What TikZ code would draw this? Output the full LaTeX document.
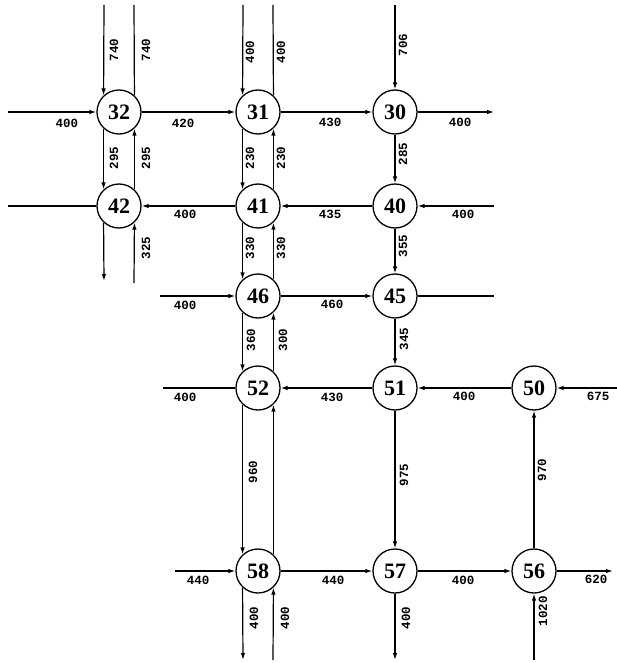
\documentclass[tikz,border=0pt]{standalone}
\usepackage{fontspec}
\newfontfamily\nodefont{Liberation Serif}
\newfontfamily\labfont{Liberation Mono}
\usetikzlibrary{arrows.meta}
\begin{document}
\begin{tikzpicture}[x=1pt,y=-1pt,
  junction/.style={circle,draw,line width=1.3pt,fill=white,minimum size=44pt,inner sep=0pt,
    font=\nodefont\bfseries\fontsize{22}{22}\selectfont},
  road/.style={line width=1.2pt},
  arr/.style={road,-{Latex[length=7pt,width=4.5pt]}},
  hl/.style={font=\labfont\bfseries\fontsize{12.5}{12.5}\selectfont,inner sep=0pt},
  vl/.style={hl,rotate=90}]
\useasboundingbox[fill=white] (0,0) rectangle (617,663);
% junctions
\node[junction] (n32) at (119,112) {32};
\node[junction] (n31) at (258,112) {31};
\node[junction] (n30) at (395,112) {30};
\node[junction] (n42) at (119,206) {42};
\node[junction] (n41) at (258,206) {41};
\node[junction] (n40) at (395,206) {40};
\node[junction] (n46) at (258,296) {46};
\node[junction] (n45) at (395,296) {45};
\node[junction] (n52) at (258,388) {52};
\node[junction] (n51) at (395,388) {51};
\node[junction] (n50) at (534,388) {50};
\node[junction] (n58) at (258,571) {58};
\node[junction] (n57) at (395,571) {57};
\node[junction] (n56) at (534,571) {56};
% free ends
\coordinate (t32l) at (104,5);
\coordinate (t32r) at (134,5);
\coordinate (w32) at (8,112);
\coordinate (b42l) at (104,281);
\coordinate (b42r) at (134,283);
\coordinate (w42) at (8,206);
\coordinate (t31l) at (243,5);
\coordinate (t31r) at (273,5);
\coordinate (t30) at (395,5);
\coordinate (e30) at (494,112);
\coordinate (e40) at (494,206);
\coordinate (w46) at (160,296);
\coordinate (e45) at (494,296);
\coordinate (w52) at (163,388);
\coordinate (e50) at (617,388);
\coordinate (w58) at (175,571);
\coordinate (e56) at (613,571);
\coordinate (b56) at (534,660);
\coordinate (b57) at (395,660);
\coordinate (b58l) at (243,660);
\coordinate (b58r) at (273,660);
% connectors
\draw[arr] (t32l) -- (n32.133);
\draw[road] (n32.47) -- (t32r);
\draw[arr] (w32) -- (n32);
\draw[arr] (n32) -- (n31);
\draw[arr] (n32.227) -- (n42.133);
\draw[arr] (n42.47) -- (n32.313);
\draw[arr] (n42.227) -- (b42l);
\draw[arr] (b42r) -- (n42.313);
\draw[road] (n42) -- (w42);
\draw[arr] (n41) -- (n42);
\draw[arr] (t31l) -- (n31.133);
\draw[road] (n31.47) -- (t31r);
\draw[arr] (n31) -- (n30);
\draw[arr] (n31.227) -- (n41.133);
\draw[arr] (n41.47) -- (n31.313);
\draw[arr] (n40) -- (n41);
\draw[arr] (t30) -- (n30);
\draw[arr] (n30) -- (e30);
\draw[arr] (n30) -- (n40);
\draw[arr] (e40) -- (n40);
\draw[arr] (n40) -- (n45);
\draw[arr] (n41.227) -- (n46.133);
\draw[arr] (n46.47) -- (n41.313);
\draw[arr] (w46) -- (n46);
\draw[arr] (n46) -- (n45);
\draw[road] (n45) -- (e45);
\draw[arr] (n45) -- (n51);
\draw[arr] (n46.227) -- (n52.133);
\draw[arr] (n52.47) -- (n46.313);
\draw[road] (n52) -- (w52);
\draw[arr] (n51) -- (n52);
\draw[arr] (n50) -- (n51);
\draw[arr] (e50) -- (n50);
\draw[arr] (n51) -- (n57);
\draw[arr] (n56) -- (n50);
\draw[arr] (n52.227) -- (n58.133);
\draw[arr] (n58.47) -- (n52.313);
\draw[arr] (w58) -- (n58);
\draw[arr] (n58) -- (n57);
\draw[arr] (n57) -- (n56);
\draw[arr] (n56) -- (e56);
\draw[arr] (b56) -- (n56);
\draw[arr] (n57) -- (b57);
\draw[arr] (n58.227) -- (b58l);
\draw[arr] (b58r) -- (n58.313);
% labels
\node[vl] (la1) at (114,50) {740};
\node[vl] (la2) at (146,50) {740};
\node[hl] (la3) at (67,123) {400};
\node[hl] (la4) at (183,123) {420};
\node[vl] (la5) at (114,158) {295};
\node[vl] (la6) at (146,158) {295};
\node[vl] (la7) at (146,248) {325};
\node[hl] (la8) at (185,214) {400};
\node[vl] (la9) at (250,52) {400};
\node[vl] (la10) at (281,52) {400};
\node[hl] (la11) at (330,122) {430};
\node[vl] (la12) at (250,158) {230};
\node[vl] (la13) at (281,158) {230};
\node[hl] (la14) at (330,214) {435};
\node[vl] (la15) at (403,45) {706};
\node[hl] (la16) at (460,122) {400};
\node[vl] (la17) at (403,154) {285};
\node[hl] (la18) at (463,214) {400};
\node[vl] (la19) at (403,246) {355};
\node[vl] (la20) at (250,248) {330};
\node[vl] (la21) at (281,248) {330};
\node[hl] (la22) at (185,305) {400};
\node[hl] (la23) at (332,304) {460};
\node[vl] (la24) at (404,339) {345};
\node[vl] (la25) at (251,340) {360};
\node[vl] (la26) at (283,340) {300};
\node[hl] (la27) at (185,397) {400};
\node[hl] (la28) at (332,397) {430};
\node[hl] (la29) at (464,396) {400};
\node[hl] (la30) at (598,396) {675};
\node[vl] (la31) at (404,475) {975};
\node[vl] (la32) at (542,470) {970};
\node[vl] (la33) at (253,472) {960};
\node[hl] (la34) at (198,580) {440};
\node[hl] (la35) at (333,580) {440};
\node[hl] (la36) at (463,580) {400};
\node[hl] (la37) at (596,579) {620};
\node[vl] (la38) at (543,611) {1020};
\node[vl] (la39) at (406,618) {400};
\node[vl] (la40) at (254,618) {400};
\node[vl] (la41) at (285,618) {400};
\end{tikzpicture}
\end{document}
